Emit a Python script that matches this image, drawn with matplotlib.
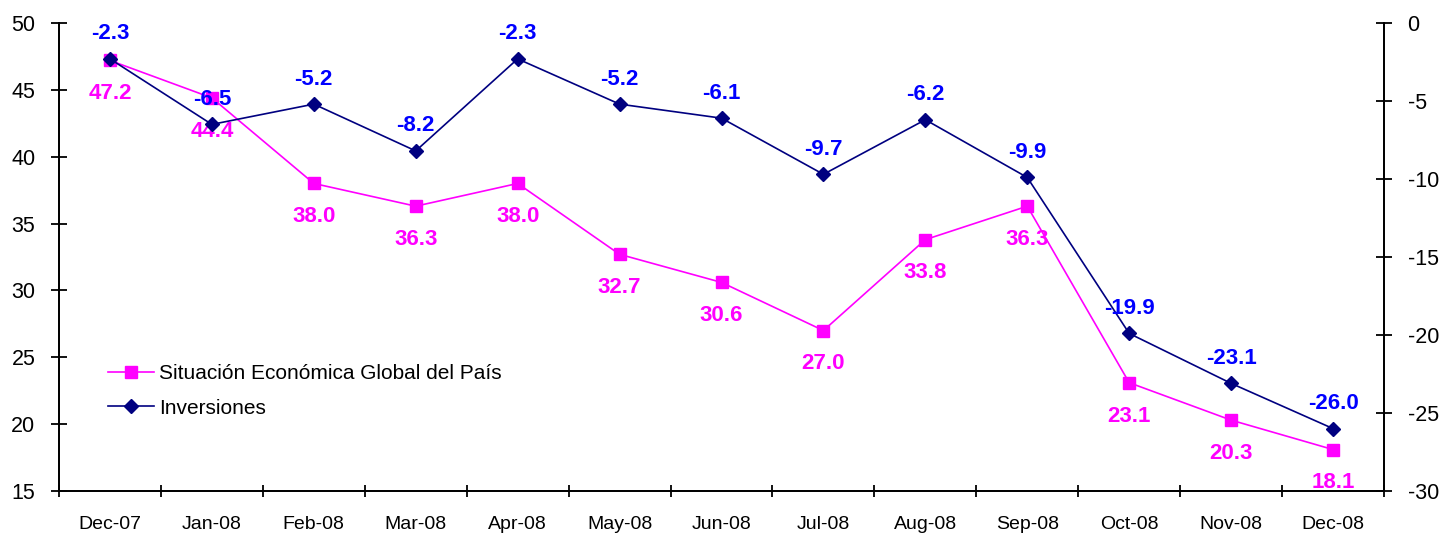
import matplotlib
matplotlib.use("Agg")
import matplotlib.pyplot as plt

plt.rcParams['font.family'] = ['Liberation Sans', 'DejaVu Sans']
plt.rcParams['axes.unicode_minus'] = False

months = ['Dec-07', 'Jan-08', 'Feb-08', 'Mar-08', 'Apr-08', 'May-08', 'Jun-08',
          'Jul-08', 'Aug-08', 'Sep-08', 'Oct-08', 'Nov-08', 'Dec-08']
situacion = [47.2, 44.4, 38.0, 36.3, 38.0, 32.7, 30.6, 27.0, 33.8, 36.3, 23.1, 20.3, 18.1]
inversiones = [-2.3, -6.5, -5.2, -8.2, -2.3, -5.2, -6.1, -9.7, -6.2, -9.9, -19.9, -23.1, -26.0]

pink = '#FF00FF'
navy = '#000080'
blue = '#0000FF'

fig = plt.figure(figsize=(14.44, 5.33), dpi=100)
ax = fig.add_axes([59 / 1444, 42 / 533, 1325 / 1444, 468 / 533])
ax2 = ax.twinx()

x = list(range(len(months)))
l1, = ax.plot(x, situacion, color=pink, lw=1.2, marker='s', ms=9,
              label='Situación Económica Global del País')
l2, = ax2.plot(x, inversiones, color=navy, lw=1.2, marker='D', ms=7,
               label='Inversiones')

# etiquetas de datos
for i, v in enumerate(situacion):
    ax.annotate(f'{v:.1f}', (i, v), xytext=(0, -24), textcoords='offset points',
                ha='center', va='center', color=pink, fontsize=16, fontweight='bold')
for i, v in enumerate(inversiones):
    ax2.annotate(f'{v:.1f}', (i, v), xytext=(0, 18), textcoords='offset points',
                 ha='center', va='center', color=blue, fontsize=16, fontweight='bold')

ax.set_xlim(-0.5, 12.5)
ax.set_ylim(15, 50)
ax2.set_ylim(-30, 0)
ax.set_yticks(range(15, 51, 5))
ax2.set_yticks(range(-30, 1, 5))

ax.set_xticks([i + 0.5 for i in range(-1, 13)])
ax.set_xticklabels([])
ax.set_xticks(x, minor=True)
ax.set_xticklabels(months, minor=True, fontsize=14)
ax.tick_params(axis='x', which='minor', length=0, pad=18)
ax.tick_params(axis='x', which='major', direction='inout', length=9, width=1.3)
ax.tick_params(axis='y', direction='inout', length=12, width=1.3, labelsize=15.5, pad=11)
ax2.tick_params(axis='y', direction='inout', length=12, width=1.3, labelsize=15.5, pad=11)

for a in (ax, ax2):
    a.spines['top'].set_visible(False)
    for s in ('left', 'right', 'bottom'):
        a.spines[s].set_linewidth(1.3)

ax.legend([l1, l2], [l1.get_label(), l2.get_label()], frameon=False,
          loc='upper left', bbox_to_anchor=(0.034, 0.28), fontsize=15,
          handlelength=2.2, handletextpad=0.25, labelspacing=0.75,
          borderpad=0.2, borderaxespad=0)

fig.savefig('out.png', dpi=100)
